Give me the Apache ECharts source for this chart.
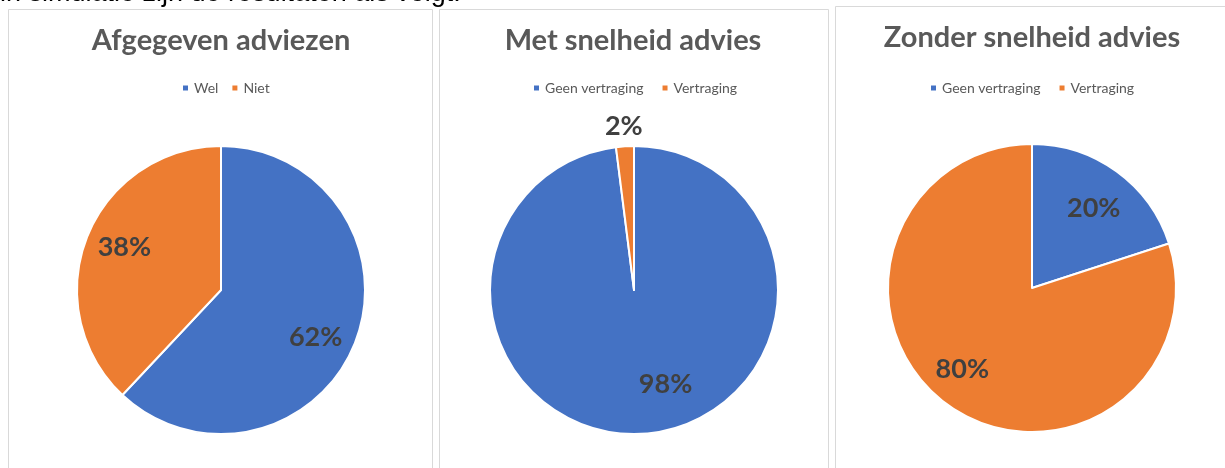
<!DOCTYPE html>
<html>
<head>
<meta charset="utf-8">
<script src="https://cdn.jsdelivr.net/npm/echarts@6/dist/echarts.min.js"></script>
<style>
  html, body { margin: 0; padding: 0; background: #fff; }
  #chart { width: 1225px; height: 468px; }
</style>
</head>
<body>
<div id="chart"></div>
<script>
// Chart data
const introText = 'in simulatie zijn de resultaten als volgt:';
const chartTitles = ['Afgegeven adviezen', 'Met snelheid advies', 'Zonder snelheid advies'];
const adviesNames = ['Wel', 'Niet'];
const adviesValues = [62, 38];
const vertragingNames = ['Geen vertraging', 'Vertraging'];
const metSnelheidValues = [98, 2];
const zonderSnelheidValues = [20, 80];

// Styling
const sliceColors = ['#4472C4', '#ED7D31'];
const textGrey = '#595959';
const labelGrey = '#404040';
const borderGrey = '#d9d9d9';
const FONT = 'Lato, "Open Sans", sans-serif';

// Panel layout: pie centre, pie radius, title centre/top, legend start, label nudges
const R = 144;
const panels = [
  { names: adviesNames, values: adviesValues, center: [221, 290], titleX: 221, titleTop: 26, legendLeft: 181, legendGap: 12,
    nudge: [[-3, 9], [1, -4]] },
  { names: vertragingNames, values: metSnelheidValues, center: [634, 290], titleX: 633, titleTop: 26, legendLeft: 532, legendGap: 17,
    nudge: [[25, -10], [0, 0]] },
  { names: vertragingNames, values: zonderSnelheidValues, center: [1032, 288], titleX: 1032, titleTop: 23, legendLeft: 929, legendGap: 17,
    nudge: [[0, 5], [-8, -4]] }
];

const labelText = { fontFamily: FONT, fontWeight: 'bold', fontSize: 27, color: labelGrey };

function isSmall(values, i) {
  const total = values.reduce((a, b) => a + b, 0);
  return values[i] / total < 0.05;
}

const titles = [];
const legends = [];
const slices = [];
const labelRings = [];

panels.forEach((p, k) => {
  titles.push({
    text: chartTitles[k],
    left: p.titleX, top: p.titleTop, textAlign: 'center', padding: 0,
    textStyle: { fontFamily: FONT, fontWeight: 'bold', fontSize: 29, color: textGrey }
  });
  legends.push({
    data: p.names,
    left: p.legendLeft, top: 81, padding: 0,
    orient: 'horizontal', icon: 'rect', itemWidth: 7, itemHeight: 7, itemGap: p.legendGap,
    selectedMode: false,
    textStyle: { fontFamily: FONT, fontSize: 14, color: textGrey }
  });

  // Visible slices; very small slices carry their value label outside the pie
  slices.push({
    type: 'pie',
    center: p.center,
    radius: [0, R],
    startAngle: 90,
    clockwise: true,
    avoidLabelOverlap: false,
    color: sliceColors,
    itemStyle: { borderColor: '#ffffff', borderWidth: 2 },
    emphasis: { disabled: true },
    labelLine: { show: false, length: 20, length2: 0 },
    data: p.names.map((n, i) => ({
      name: n,
      value: p.values[i],
      label: isSmall(p.values, i)
        ? Object.assign({ show: true, position: 'outside', formatter: '{c}%', distanceToLabelLine: -19 }, labelText)
        : { show: false }
    }))
  });

  // Invisible wider ring that positions the in-slice value labels further out
  labelRings.push({
    type: 'pie',
    center: p.center,
    radius: [0, 204],
    startAngle: 90,
    clockwise: true,
    silent: true,
    legendHoverLink: false,
    avoidLabelOverlap: false,
    itemStyle: { color: 'rgba(0,0,0,0)', borderWidth: 0 },
    emphasis: { disabled: true },
    labelLine: { show: false },
    labelLayout: (params) => ({ dx: p.nudge[params.dataIndex][0], dy: p.nudge[params.dataIndex][1] }),
    data: p.names.map((n, i) => ({
      name: n,
      value: p.values[i],
      label: isSmall(p.values, i)
        ? { show: false }
        : Object.assign({ show: true, position: 'inside', formatter: '{c}%' }, labelText)
    }))
  });
});

const chart = echarts.init(document.getElementById('chart'), null, { renderer: 'canvas' });
chart.setOption({
  backgroundColor: '#ffffff',
  animation: false,
  graphic: [
    { type: 'text', x: 0, y: -6, z: 10,
      style: { text: introText, fontFamily: '"Liberation Sans", Arial, sans-serif', fontSize: 27,
               fill: '#000000', verticalAlign: 'middle', align: 'left' } },
    { type: 'rect', z: -1, shape: { x: 8.5, y: 9.5, width: 424, height: 470 },
      style: { fill: 'none', stroke: borderGrey, lineWidth: 1 } },
    { type: 'rect', z: -1, shape: { x: 439.5, y: 9.5, width: 389, height: 470 },
      style: { fill: 'none', stroke: borderGrey, lineWidth: 1 } },
    { type: 'rect', z: -1, shape: { x: 835.5, y: 6.5, width: 400, height: 470 },
      style: { fill: 'none', stroke: borderGrey, lineWidth: 1 } }
  ],
  title: titles,
  legend: legends,
  series: slices.concat(labelRings)
});
</script>
</body>
</html>
